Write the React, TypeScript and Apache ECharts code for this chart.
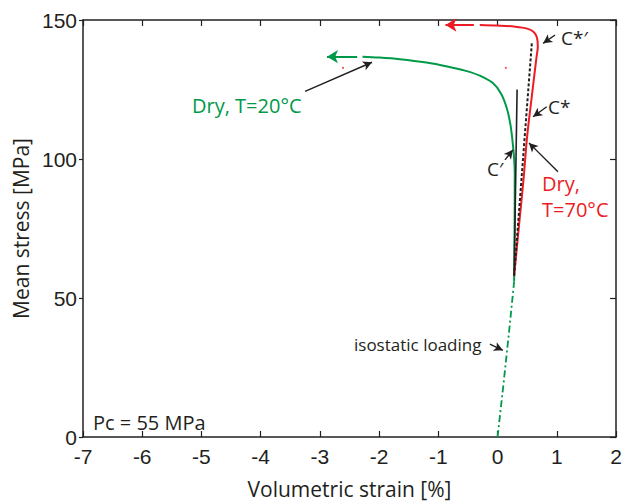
import React, { useEffect, useRef } from "react";
import * as echarts from "echarts";

// ---- data (volumetric strain %, mean stress MPa) ----
const isostatic: number[][] = [[0, 0], [0.1, 19], [0.2, 39], [0.28, 56]];
const dry20: number[][] = [
  [0.28, 56], [0.285, 70], [0.29, 85], [0.29, 95], [0.28, 100], [0.26, 105], [0.22, 112],
  [0.16, 118], [0.06, 123.5], [-0.08, 127.3], [-0.3, 130], [-0.55, 131.8], [-0.85, 133.3],
  [-1.2, 134.7], [-1.65, 135.9], [-2.0, 136.5], [-2.28, 136.8],
];
const dry20Arrow: number[][] = [[-2.37, 136.8], [-2.88, 136.8]];
const dry70: number[][] = [
  [0.28, 58], [0.33, 69], [0.38, 80], [0.44, 93], [0.49, 106], [0.53, 114], [0.57, 121],
  [0.62, 130], [0.66, 137], [0.68, 140.5], [0.665, 143.7], [0.61, 145.7], [0.5, 146.9],
  [0.3, 147.6], [0.0, 148.0], [-0.3, 148.2],
];
const dry70Arrow: number[][] = [[-0.4, 148.2], [-0.88, 148.2]];
const elasticLine: number[][] = [[0.28, 58], [0.33, 125]];
const dottedLine: number[][] = [[0.28, 58], [0.58, 142]];
const redDots: number[][] = [[-2.61, 132.8], [0.14, 132.8]];
// annotation arrows: [tail, head]
const pointers: number[][][] = [
  [[-3.25, 124.3], [-2.12, 134.8]],
  [[0.97, 144.6], [0.77, 141.6]],
  [[0.83, 118.8], [0.6, 115.2]],
  [[0.125, 99.7], [0.26, 103.3]],
  [[1.02, 95.4], [0.53, 105.8]],
  [[-0.13, 33.4], [0.09, 31.2]],
];

const GREEN = "#00994a";
const RED = "#ed1c24";
const INK = "#231f20";
const TICK_FONT = "Liberation Sans";
const TEXT_FONT = "Open Sans";

export default function App() {
  const ref = useRef<HTMLDivElement>(null);
  useEffect(() => {
    if (!ref.current) return;
    const chart = echarts.init(ref.current, undefined, { renderer: "svg" });
    const axisLine = { show: true, onZero: false, lineStyle: { color: INK, width: 1.5 } };
    const axisTick = { show: true, inside: true, length: 6, lineStyle: { color: INK, width: 1.2 } };
    const arrowLine = (pts: number[][], color: string) => ({
      type: "line",
      data: [],
      silent: true,
      markLine: {
        silent: true,
        symbol: ["none", "arrow"],
        symbolSize: [10, 11],
        label: { show: false },
        lineStyle: { color, width: 2, type: "solid" },
        emphasis: { disabled: true },
        data: [[{ coord: pts[0] }, { coord: pts[1] }]],
      },
    });
    const textStyle = (fill: string, size: number) => ({
      fill,
      fontSize: size,
      fontFamily: TEXT_FONT,
    });
    chart.setOption({
      animation: false,
      grid: { left: 83, right: 17, top: 20, bottom: 65 },
      xAxis: [
        {
          type: "value", min: -7, max: 2, interval: 1, position: "bottom",
          name: "Volumetric strain [%]", nameLocation: "middle", nameGap: 41,
          nameTextStyle: { fontFamily: TEXT_FONT, fontSize: 21, color: INK },
          axisLine, axisTick, splitLine: { show: false },
          axisLabel: { fontFamily: TICK_FONT, fontSize: 21, color: INK, margin: 9 },
        },
        {
          type: "value", min: -7, max: 2, interval: 1, position: "top",
          axisLine, axisTick, splitLine: { show: false }, axisLabel: { show: false },
        },
      ],
      yAxis: [
        {
          type: "value", min: 0, max: 150, interval: 50, position: "left",
          name: "Mean stress [MPa]", nameLocation: "middle", nameGap: 46,
          nameTextStyle: { fontFamily: TEXT_FONT, fontSize: 21, color: INK },
          axisLine, axisTick: { ...axisTick, inside: false, length: 4 }, splitLine: { show: false },
          axisLabel: { fontFamily: TICK_FONT, fontSize: 21, color: INK, margin: 6 },
        },
        {
          type: "value", min: 0, max: 150, interval: 50, position: "right",
          axisLine, axisTick, splitLine: { show: false }, axisLabel: { show: false },
        },
      ],
      series: [
        {
          type: "line", data: isostatic, showSymbol: false, silent: true,
          lineStyle: { color: GREEN, width: 1.8, type: [7, 3, 2, 3] },
        },
        {
          type: "line", data: dry20, showSymbol: false, silent: true, smooth: 0.35,
          lineStyle: { color: GREEN, width: 2 },
        },
        arrowLine(dry20Arrow, GREEN),
        {
          type: "line", data: dry70, showSymbol: false, silent: true, smooth: 0.35,
          lineStyle: { color: RED, width: 2 },
        },
        arrowLine(dry70Arrow, RED),
        {
          type: "line", data: elasticLine, showSymbol: false, silent: true,
          lineStyle: { color: INK, width: 1.6 },
        },
        {
          type: "line", data: dottedLine, showSymbol: false, silent: true,
          lineStyle: { color: INK, width: 2, type: [3, 2] },
        },
        {
          type: "scatter", data: redDots, symbolSize: 2, silent: true,
          itemStyle: { color: RED },
        },
        {
          type: "line", data: [], silent: true,
          markLine: {
            silent: true,
            symbol: ["none", "arrow"],
            symbolSize: [7, 9],
            label: { show: false },
            lineStyle: { color: INK, width: 1.4, type: "solid" },
            emphasis: { disabled: true },
            data: pointers.map((p) => [{ coord: p[0] }, { coord: p[1] }]),
          },
        },
      ],
      graphic: [
        { type: "text", x: 192, y: 105, style: { ...textStyle(GREEN, 20), text: "Dry, T=20°C", align: "left", verticalAlign: "middle" } },
        { type: "text", x: 561, y: 38, style: { ...textStyle(INK, 19), text: "C*′", align: "left", verticalAlign: "middle" } },
        { type: "text", x: 548, y: 107, style: { ...textStyle(INK, 19), text: "C*", align: "left", verticalAlign: "middle" } },
        { type: "text", x: 487, y: 169, style: { ...textStyle(INK, 19), text: "C′", align: "left", verticalAlign: "middle" } },
        { type: "text", x: 542, y: 183, style: { ...textStyle(RED, 20), text: "Dry,", align: "left", verticalAlign: "middle" } },
        { type: "text", x: 542, y: 209, style: { ...textStyle(RED, 20), text: "T=70°C", align: "left", verticalAlign: "middle" } },
        { type: "text", x: 354, y: 344, style: { ...textStyle(INK, 17), text: "isostatic loading", align: "left", verticalAlign: "middle" } },
        { type: "text", x: 93, y: 422, style: { ...textStyle(INK, 20), text: "Pc = 55 MPa", align: "left", verticalAlign: "middle" } },
      ],
    });
    return () => chart.dispose();
  }, []);
  return <div ref={ref} style={{ width: 633, height: 504, position: "absolute", left: 0, top: 0 }} />;
}
